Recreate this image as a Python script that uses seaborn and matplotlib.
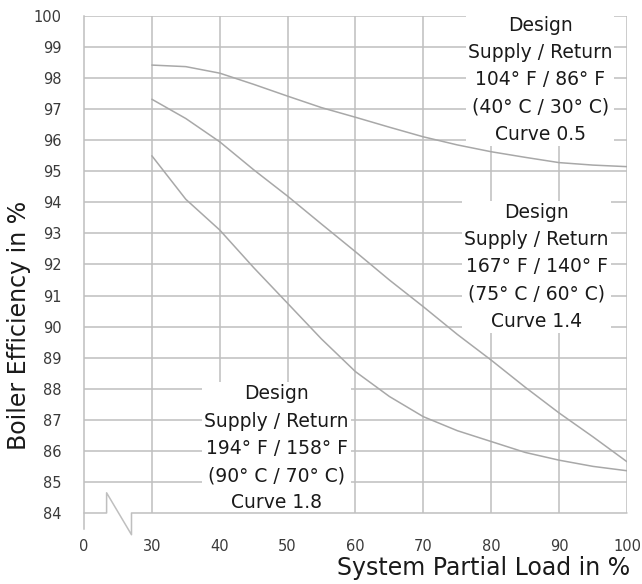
import numpy as np
import pandas as pd
import matplotlib
matplotlib.use('Agg')
import matplotlib.pyplot as plt
import seaborn as sns

sns.set_style('white')
plt.rcParams['font.family'] = ['DejaVu Sans']

GRID = '#bfbfbf'
CURVE = '#a8a8a8'
TICK_TXT = '#3a3a3a'

# ── 데이터
LOAD = [30, 35, 40, 45, 50, 55, 60, 65, 70, 75, 80, 85, 90, 95, 100]
EFF_05 = [98.42, 98.37, 98.16, 97.80, 97.42, 97.05, 96.74, 96.42, 96.11, 95.85, 95.63, 95.45, 95.28, 95.20, 95.15]
EFF_14 = [97.32, 96.70, 95.95, 95.05, 94.20, 93.30, 92.41, 91.50, 90.64, 89.75, 88.92, 88.05, 87.22, 86.45, 85.65]
EFF_18 = [95.50, 94.10, 93.11, 91.90, 90.75, 89.60, 88.55, 87.75, 87.10, 86.65, 86.30, 85.95, 85.70, 85.50, 85.36]

X_TICKS = [0, 30, 40, 50, 60, 70, 80, 90, 100]
Y_TICKS = list(range(84, 101))

LABEL_05 = 'Design\nSupply / Return\n104° F / 86° F\n(40° C / 30° C)\nCurve 0.5'
LABEL_14 = 'Design\nSupply / Return\n167° F / 140° F\n(75° C / 60° C)\nCurve 1.4'
LABEL_18 = 'Design\nSupply / Return\n194° F / 158° F\n(90° C / 70° C)\nCurve 1.8'

df = pd.concat([
    pd.DataFrame({'load': LOAD, 'eff': EFF_05, 'curve': '0.5'}),
    pd.DataFrame({'load': LOAD, 'eff': EFF_14, 'curve': '1.4'}),
    pd.DataFrame({'load': LOAD, 'eff': EFF_18, 'curve': '1.8'}),
], ignore_index=True)

# 0~30 구간 압축 (축 끊김)
def fwd(x):
    x = np.asarray(x, dtype=float)
    return np.where(x < 30, 20 + x / 3, x)

def inv(u):
    u = np.asarray(u, dtype=float)
    return np.where(u < 30, (u - 20) * 3, u)

fig, ax = plt.subplots(figsize=(6.42, 5.84), dpi=100)
fig.subplots_adjust(left=0.1308, right=0.9766, bottom=0.1216, top=0.9726)
ax.set_xscale('function', functions=(fwd, inv))

sns.lineplot(data=df, x='load', y='eff', units='curve', estimator=None,
             color=CURVE, lw=1.1, ax=ax, legend=False)

ax.set_xlim(0, 100)
ax.set_ylim(84, 100)
ax.set_xticks(X_TICKS)
ax.set_yticks(Y_TICKS)
ax.grid(True, color=GRID, lw=1.1, zorder=0)
ax.set_axisbelow(True)
ax.yaxis.get_gridlines()[0].set_visible(False)
ax.xaxis.get_gridlines()[0].set_visible(False)

for s in ['top', 'right', 'bottom']:
    ax.spines[s].set_visible(False)
ax.spines['left'].set_color(GRID)
ax.spines['left'].set_linewidth(1.1)
ax.spines['left'].set_bounds(83.5, 100)

# 끊김 표시
ax.plot([0, 10, 10, 21, 21, 100], [84, 84, 84.65, 83.3, 84, 84],
        color=GRID, lw=1.1, clip_on=False, zorder=5)

ax.tick_params(axis='x', length=2, width=1, color=GRID, pad=17,
               labelsize=10.5, labelcolor=TICK_TXT)
ax.tick_params(axis='y', length=0, pad=16, labelsize=10.5, labelcolor=TICK_TXT)

ax.set_xlabel('System Partial Load in %', fontsize=17, color='#1a1a1a')
ax.xaxis.set_label_coords(0.735, -0.086)
ax.set_ylabel('Boiler Efficiency in %', fontsize=17, color='#1a1a1a')
ax.yaxis.set_label_coords(-0.097, 0.378)

box = dict(facecolor='white', edgecolor='none', pad=1.5)
for x, y, t in [(87.2, 97.95, LABEL_05), (86.7, 91.92, LABEL_14), (48.4, 86.08, LABEL_18)]:
    ax.text(x, y, t, ha='center', va='center', fontsize=13.5, linespacing=1.55,
            color='#1a1a1a', bbox=box, zorder=4)

plt.savefig('out.png', dpi=100)
plt.close()
